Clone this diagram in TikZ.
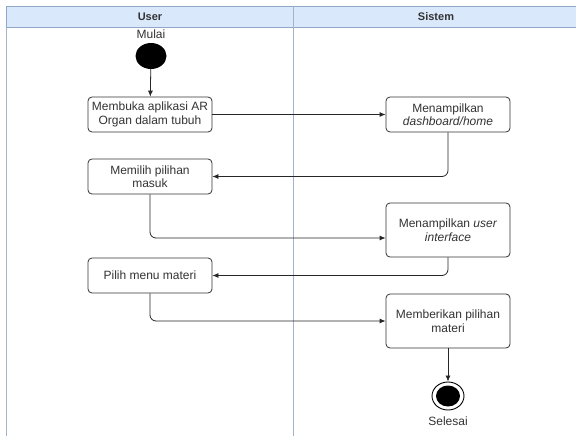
\documentclass[tikz,border=0pt]{standalone}
\usepackage{fontspec}
\setmainfont{Liberation Sans}
\usetikzlibrary{arrows.meta,shapes.geometric,calc}
\definecolor{hdrfill}{HTML}{DAE8FC}
\definecolor{hdrdraw}{HTML}{8FA8C8}
\definecolor{lanedraw}{HTML}{A3B4C6}
\definecolor{txt}{HTML}{333333}
\begin{document}
\begin{tikzpicture}[x=1pt,y=-1pt,
  act/.style={draw=txt, rounded corners=4pt, fill=white, minimum width=124pt,
    minimum height=35pt, align=center, inner sep=1pt,
    font=\fontsize{12}{13.5}\selectfont, text=txt, line width=0.8pt},
  arr/.style={draw=black!85, line width=0.8pt, -{Latex[length=6pt,width=5pt]}},
  lbl/.style={font=\fontsize{12}{13.5}\selectfont, text=txt},
  hdr/.style={font=\bfseries\fontsize{11}{13}\selectfont, text=txt}]
\useasboundingbox (0,0) rectangle (576,436);
% pool
\fill[white] (0,0) rectangle (576,436);
\draw[fill=hdrfill, draw=hdrdraw, line width=0.9pt] (6.5,6) rectangle (580,27);
\draw[lanedraw, line width=1pt] (6.5,27) -- (6.5,440);
\draw[lanedraw, line width=1pt] (293,6) -- (293,440);
\node[hdr] (hu) at (150,16.5) {User};
\node[hdr] (hs) at (436,16.5) {Sistem};
% start / end
\node[lbl] (mulai) at (151,34) {Mulai};
\node[ellipse, fill=black, minimum width=31pt, minimum height=26pt, inner sep=0pt] (start) at (151,56) {};
\node[ellipse, draw=black, line width=0.9pt, fill=white, minimum width=32pt, minimum height=28pt, inner sep=0pt] (end) at (448,396) {};
\node[ellipse, fill=black, minimum width=24pt, minimum height=21pt, inner sep=0pt] (endin) at (448,396) {};
\node[lbl] (selesai) at (448,421) {Selesai};
% activities
\node[act] (b1) at (150,114.5) {Membuka aplikasi AR\\Organ dalam tubuh};
\node[act] (b2) at (150,176.5) {Memilih pilihan\\masuk};
\node[act] (b3) at (150,275.5) {Pilih menu materi};
\node[act] (dash) at (448,114.5) {Menampilkan\\\textit{dashboard/home}};
\node[act, minimum height=54pt] (ui) at (448,230) {Menampilkan \textit{user}\\\textit{interface}};
\node[act, minimum height=54pt] (mat) at (448,321) {Memberikan pilihan\\materi};
% connectors
\draw[arr] (start) -- (b1);
\draw[arr] (b1) -- (dash);
\draw[arr, rounded corners=6pt] (dash.south) |- (b2.east);
\draw[arr, rounded corners=6pt] (b2.south) |- ([yshift=-8pt]ui.west);
\draw[arr, rounded corners=6pt] (ui.south) |- (b3.east);
\draw[arr, rounded corners=6pt] (b3.south) |- (mat.west);
\draw[arr] (mat) -- (end);
\end{tikzpicture}
\end{document}
